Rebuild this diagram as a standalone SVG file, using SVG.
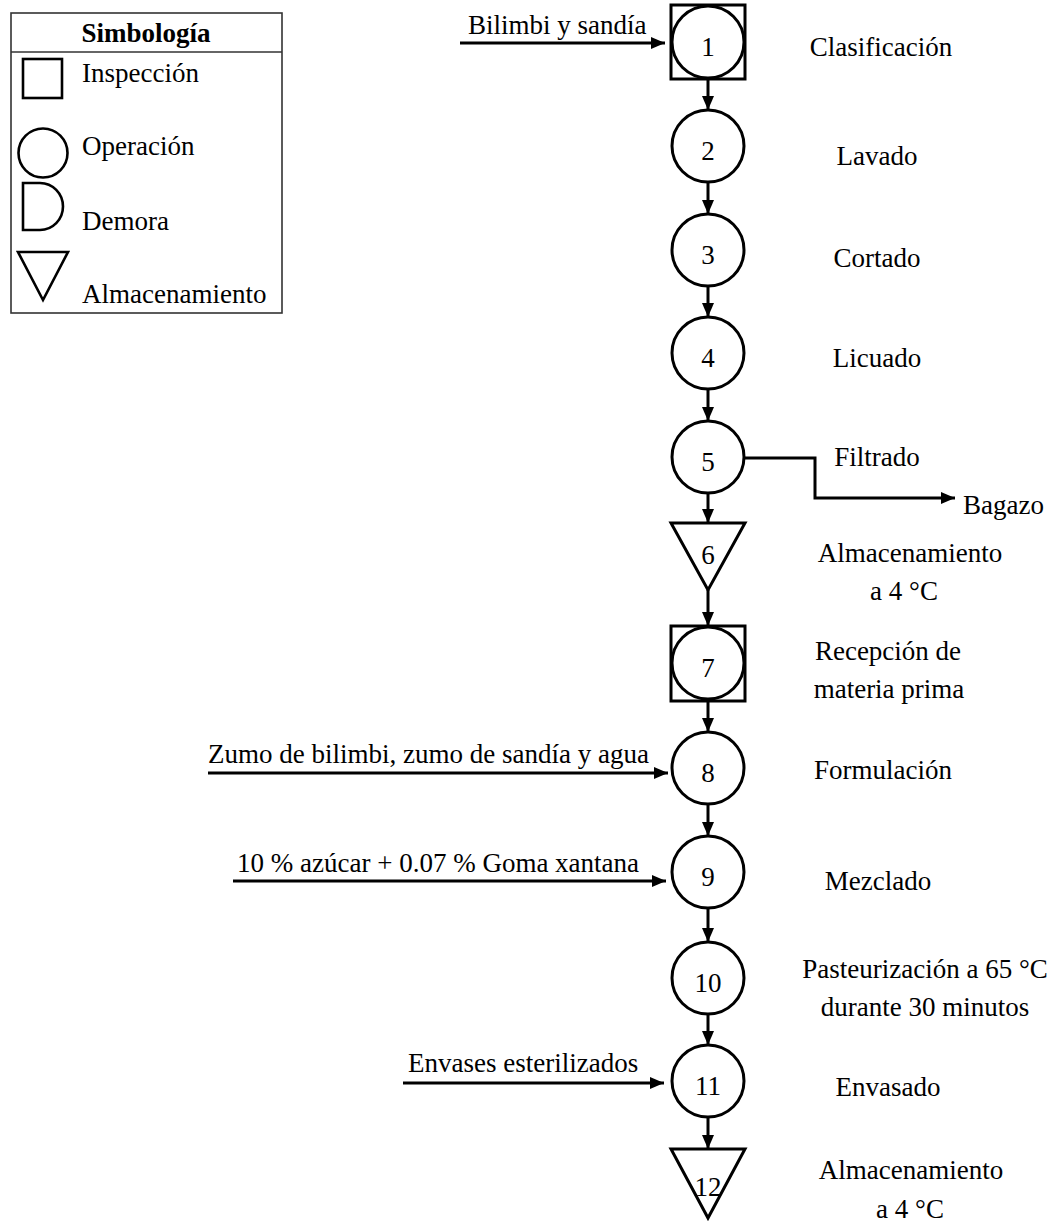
<svg xmlns="http://www.w3.org/2000/svg" width="1052" height="1223" viewBox="0 0 1052 1223">
<defs>
<marker id="ah" markerUnits="userSpaceOnUse" markerWidth="16" markerHeight="14" refX="14" refY="6" orient="auto">
<path d="M0,0 L14,6 L0,12 Z" fill="#000"/>
</marker>
<style>
text{font-family:"Liberation Serif","Times New Roman",serif;font-size:27px;fill:#000}
.m{text-anchor:middle}
.b{font-weight:bold}
.s{fill:#fff;stroke:#000;stroke-width:3}
.ls{fill:none;stroke:#000;stroke-width:2.6}
.c{fill:none;stroke:#000;stroke-width:3;marker-end:url(#ah)}
</style>
</defs>
<rect width="1052" height="1223" fill="#fff"/>

<g id="legend">
<rect x="11" y="13" width="271" height="300" fill="none" stroke="#333" stroke-width="1.6"/>
<line x1="11" y1="52" x2="282" y2="52" stroke="#333" stroke-width="1.6"/>
<text class="m b" x="146" y="42">Simbología</text>
<rect class="ls" x="23" y="59" width="39" height="39"/>
<text x="82" y="82">Inspección</text>
<circle class="ls" cx="43" cy="153" r="24.5"/>
<text x="82" y="155">Operación</text>
<path class="ls" d="M23,183 H40 A23,23.5 0 0 1 40,230 H23 Z"/>
<text x="82" y="230">Demora</text>
<path class="ls" d="M18,252 H68 L43,300 Z"/>
<text x="82" y="303">Almacenamiento</text>
</g>

<g id="connectors">
<line class="c" x1="708" y1="79" x2="708" y2="110"/>
<line class="c" x1="708" y1="182" x2="708" y2="214"/>
<line class="c" x1="708" y1="286" x2="708" y2="317"/>
<line class="c" x1="708" y1="389" x2="708" y2="421"/>
<line class="c" x1="708" y1="493" x2="708" y2="523"/>
<line class="c" x1="708" y1="590" x2="708" y2="626"/>
<line class="c" x1="708" y1="701" x2="708" y2="732"/>
<line class="c" x1="708" y1="804" x2="708" y2="836"/>
<line class="c" x1="708" y1="908" x2="708" y2="942"/>
<line class="c" x1="708" y1="1014" x2="708" y2="1045"/>
<line class="c" x1="708" y1="1117" x2="708" y2="1149"/>
<line class="c" x1="460" y1="43" x2="665" y2="43"/>
<line class="c" x1="208" y1="773" x2="668" y2="773"/>
<line class="c" x1="233" y1="881" x2="666" y2="881"/>
<line class="c" x1="403" y1="1083" x2="664" y2="1083"/>
<polyline class="c" points="744,458 815,458 815,498 955,498"/>
<text x="468" y="34">Bilimbi y sandía</text>
<text x="208" y="763">Zumo de bilimbi, zumo de sandía y agua</text>
<text x="237" y="872">10 % azúcar + 0.07 % Goma xantana</text>
<text x="408" y="1072">Envases esterilizados</text>
<text x="963" y="514">Bagazo</text>
</g>

<g id="n1"><rect class="s" x="671" y="5" width="74" height="74"/><circle class="s" cx="708" cy="42" r="36"/><text class="m" x="708" y="56">1</text><text class="m" x="881" y="56">Clasificación</text></g>
<g id="n2"><circle class="s" cx="708" cy="146" r="36"/><text class="m" x="708" y="160">2</text><text class="m" x="877" y="165">Lavado</text></g>
<g id="n3"><circle class="s" cx="708" cy="250" r="36"/><text class="m" x="708" y="264">3</text><text class="m" x="877" y="267">Cortado</text></g>
<g id="n4"><circle class="s" cx="708" cy="353" r="36"/><text class="m" x="708" y="367">4</text><text class="m" x="877" y="367">Licuado</text></g>
<g id="n5"><circle class="s" cx="708" cy="457" r="36"/><text class="m" x="708" y="471">5</text><text class="m" x="877" y="466">Filtrado</text></g>
<g id="n6"><path class="s" d="M671,523 H745 L708,590 Z"/><text class="m" x="708" y="564">6</text><text class="m" x="910" y="562">Almacenamiento</text><text class="m" x="904" y="600">a 4 °C</text></g>
<g id="n7"><rect class="s" x="671" y="626" width="74" height="75"/><circle class="s" cx="708" cy="663" r="36"/><text class="m" x="708" y="677">7</text><text class="m" x="888" y="660">Recepción de</text><text class="m" x="889" y="698">materia prima</text></g>
<g id="n8"><circle class="s" cx="708" cy="768" r="36"/><text class="m" x="708" y="782">8</text><text class="m" x="883" y="779">Formulación</text></g>
<g id="n9"><circle class="s" cx="708" cy="872" r="36"/><text class="m" x="708" y="886">9</text><text class="m" x="878" y="890">Mezclado</text></g>
<g id="n10"><circle class="s" cx="708" cy="978" r="36"/><text class="m" x="708" y="992">10</text><text class="m" x="925" y="978">Pasteurización a 65 °C</text><text class="m" x="925" y="1016">durante 30 minutos</text></g>
<g id="n11"><circle class="s" cx="708" cy="1081" r="36"/><text class="m" x="708" y="1095">11</text><text class="m" x="888" y="1096">Envasado</text></g>
<g id="n12"><path class="s" d="M671,1149 H745 L708,1218 Z"/><text class="m" x="708" y="1196">12</text><text class="m" x="911" y="1179">Almacenamiento</text><text class="m" x="910" y="1218">a 4 °C</text></g>
</svg>
